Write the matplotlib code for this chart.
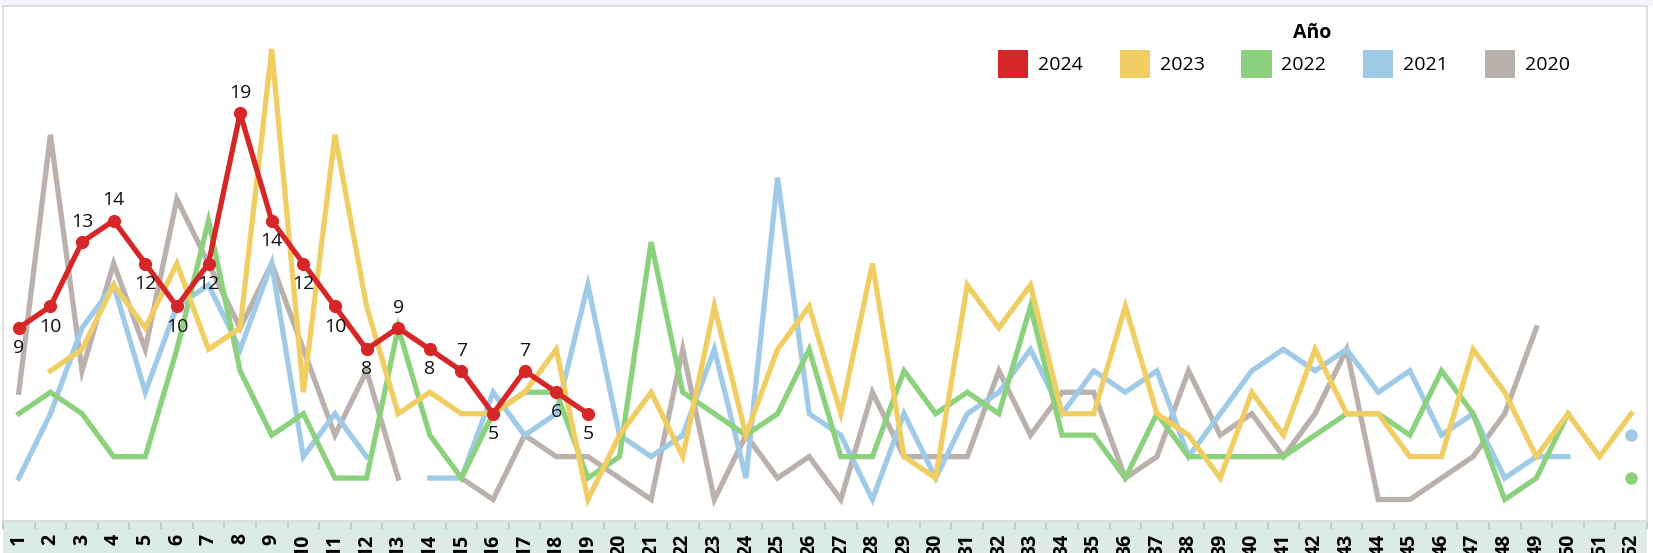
import numpy as np
import matplotlib
matplotlib.use("Agg")
import matplotlib.pyplot as plt
from matplotlib.patches import Patch, Rectangle

plt.rcParams['font.family'] = ['Open Sans', 'DejaVu Sans']

nan = np.nan
weeks = list(range(1, 53))
years = ["2024", "2023", "2022", "2021", "2020"]

y2024 = [9, 10, 13, 14, 12, 10, 12, 19, 14, 12, 10, 8, 9, 8, 7, 5, 7, 6, 5]
y2023 = [nan, 7, 8, 11, 9, 12, 8, 9, 22, 6, 18, 10, 5, 6, 5, 5, 6, 8, 1, 4,
         6, 3, 10, 4, 8, 10, 5, 12, 3, 2, 11, 9, 11, 5, 5, 10, 5, 4, 2, 6,
         4, 8, 5, 5, 3, 3, 8, 6, 3, 5, 3, 5]
y2022 = [5, 6, 5, 3, 3, 8, 14, 7, 4, 5, 2, 2, 9, 4, 2, 5, 6, 6, 2, 3,
         13, 6, 5, 4, 5, 8, 3, 3, 7, 5, 6, 5, 10, 4, 4, 2, 5, 3, 3, 3,
         3, 4, 5, 5, 4, 7, 5, 1, 2, 5, nan, 2]
y2021 = [2, 5, 9, 11, 6, 10, 11, 8, 12, 3, 5, 3, nan, 2, 2, 6, 4, 5, 11, 4,
         3, 4, 8, 2, 16, 5, 4, 1, 5, 2, 5, 6, 8, 5, 7, 6, 7, 3, 5, 7,
         8, 7, 8, 6, 7, 4, 5, 2, 3, 3, nan, 4]
y2020 = [6, 18, 7, 12, 8, 15, 12, 9, 12, 8, 4, 7, 2, nan, 2, 1, 4, 3, 3, 2,
         1, 8, 1, 4, 2, 3, 1, 6, 3, 3, 3, 7, 4, 6, 6, 2, 3, 7, 4, 5,
         3, 5, 8, 1, 1, 2, 3, 5, 9, nan, nan, nan]

colors = {"2024": "#D62728", "2023": "#F1CE63", "2022": "#8CD17D",
          "2021": "#A0CBE8", "2020": "#BAB0AC"}

# label placement for the 2024 values (+ above, - below)
label_side = [-1, -1, 1, 1, -1, -1, -1, 1, -1, -1, -1, -1, 1, -1, 1, -1, 1, -1, -1]

W, H = 1653, 553
fig = plt.figure(figsize=(W / 100, H / 100), dpi=100)
fig.patch.set_facecolor("white")
ax = fig.add_axes([3 / W, 32 / H, 1644 / W, 515 / H])

# background strips
fig.add_artist(Rectangle((3 / W, 0), 1644 / W, 32 / H, transform=fig.transFigure,
                         facecolor="#DDEBE8", edgecolor="none", zorder=0))
fig.add_artist(Rectangle((0, 1 - 6 / H), 1, 6 / H, transform=fig.transFigure,
                         facecolor="#F4F4FC", edgecolor="none", zorder=0))

for name, vals in [("2020", y2020), ("2021", y2021), ("2022", y2022), ("2023", y2023)]:
    v = np.array(vals, dtype=float)
    ax.plot(weeks, v, color=colors[name], lw=3.8, solid_joinstyle="miter", zorder=2)
    # single points with no neighbours
    for i in range(len(v)):
        left = np.isnan(v[i - 1]) if i > 0 else True
        right = np.isnan(v[i + 1]) if i < len(v) - 1 else True
        if not np.isnan(v[i]) and left and right:
            ax.plot(weeks[i], v[i], "o", color=colors[name], ms=8, zorder=2)

ax.plot(weeks[:len(y2024)], y2024, color=colors["2024"], lw=3.8, marker="o", ms=8.5, zorder=4)
for w, val, side in zip(weeks, y2024, label_side):
    ax.annotate(str(val), (w, val), xytext=(0, 14.5 * side), textcoords="offset points",
                ha="center", va="center", fontsize=14, color="#111111", zorder=5)

ax.set_xlim(0.5, 52.5)
ax.set_ylim(0, 24)
ax.set_yticks([])
ax.set_xticks(weeks)
ax.set_xticklabels([str(w) for w in weeks], rotation=90, fontsize=14, fontweight="bold")
ax.set_xticks(np.arange(0.5, 53, 1), minor=True)
ax.tick_params(axis="x", which="major", length=0, pad=9)
ax.tick_params(axis="x", which="minor", length=6, width=1.5, color="#C8C8C8", direction="out")
for s in ax.spines.values():
    s.set_color("#D9D9D9")
    s.set_linewidth(1.2)

handles = [Patch(facecolor=colors[y], edgecolor="none", label=y) for y in years]
ax.legend(handles=handles, loc="center left", bbox_to_anchor=(998 / W, 1 - 64 / H),
          bbox_transform=fig.transFigure, ncol=5, frameon=False, fontsize=14,
          handlelength=1.55, handleheight=1.84, handletextpad=0.5, columnspacing=1.9,
          borderpad=0, borderaxespad=0)
fig.text(1312 / W, 1 - 33 / H, "Año", ha="center", va="center", fontsize=14, fontweight="bold")

fig.savefig("out.png", dpi=100)
